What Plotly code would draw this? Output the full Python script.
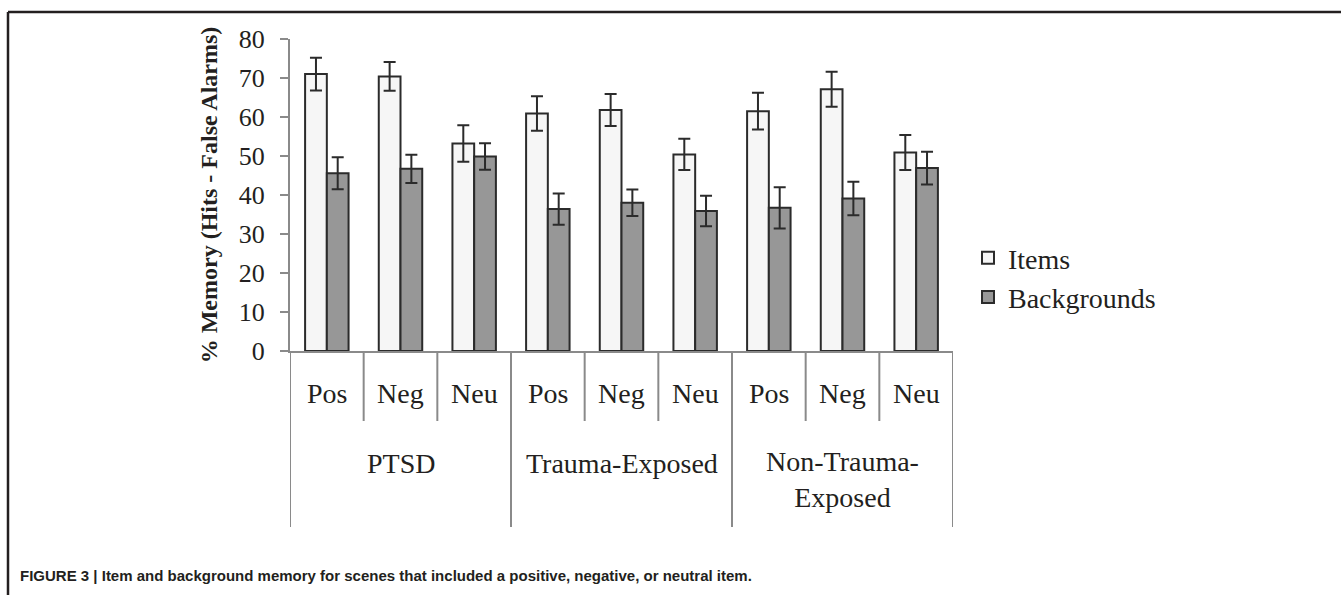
import plotly.graph_objects as go

groups = ["PTSD", "Trauma-Exposed", "Non-Trauma-Exposed"]
group_labels = ["PTSD", "Trauma-Exposed", "Non-Trauma-<br>Exposed"]
conditions = ["Pos", "Neg", "Neu"]

items = [71.0, 70.4, 53.2, 60.9, 61.8, 50.4, 61.5, 67.1, 50.9]
items_err = [4.2, 3.7, 4.7, 4.4, 4.1, 4.0, 4.7, 4.5, 4.5]
backgrounds = [45.6, 46.7, 49.9, 36.4, 38.0, 35.9, 36.7, 39.1, 46.9]
backgrounds_err = [4.1, 3.6, 3.4, 4.0, 3.4, 3.9, 5.3, 4.3, 4.2]

y_title = "% Memory (Hits - False Alarms)"
caption = ("FIGURE 3 | Item and background memory for scenes that included a "
           "positive, negative, or neutral item.")

W, H = 1341, 595
L, R, T, B = 290, 388, 39, 244
PW, PH = W - L - R, H - T - B

def px_x(px):
    return (px - L) / PW

def px_y(py):
    return (H - B - py) / PH

TEXT = "#231f20"
AXIS = "#8a8a8a"
SERIF = "Liberation Serif, Times New Roman, serif"

n = len(groups) * len(conditions)
xs = list(range(n))

fig = go.Figure()
fig.add_trace(go.Bar(
    x=xs, y=items, name="Items",
    marker=dict(color="#f6f6f6", line=dict(color="#2b2b2b", width=2)),
    error_y=dict(type="data", array=items_err, color="#2b2b2b", thickness=2, width=6),
))
fig.add_trace(go.Bar(
    x=xs, y=backgrounds, name="Backgrounds",
    marker=dict(color="#979797", line=dict(color="#2b2b2b", width=2)),
    error_y=dict(type="data", array=backgrounds_err, color="#2b2b2b", thickness=2, width=6),
))

shapes = []
annotations = []
# category tick separators and group dividers
for k in range(n + 1):
    xb = k - 0.5
    if k % len(conditions) == 0:
        y1 = px_y(527)
    else:
        y1 = px_y(421)
    shapes.append(dict(type="line", xref="x", yref="paper", x0=xb, x1=xb,
                       y0=0, y1=y1, line=dict(color=AXIS, width=2)))
# condition labels
for i in xs:
    annotations.append(dict(x=i, xref="x", y=px_y(393), yref="paper",
                            text=conditions[i % len(conditions)], showarrow=False,
                            xanchor="center", yanchor="middle",
                            font=dict(family=SERIF, size=28, color=TEXT)))
# group labels
for gi, lab in enumerate(group_labels):
    xc = gi * len(conditions) + (len(conditions) - 1) / 2
    yc = px_y(480) if "<br>" in lab else px_y(463)
    annotations.append(dict(x=xc, xref="x", y=yc, yref="paper", text=lab,
                            showarrow=False, xanchor="center", yanchor="middle",
                            font=dict(family=SERIF, size=28, color=TEXT)))
# caption
annotations.append(dict(x=px_x(18), xref="paper", y=px_y(575), yref="paper",
                        text="<b>" + caption + "</b>", showarrow=False,
                        xanchor="left", yanchor="middle",
                        font=dict(family="Liberation Sans Narrow, Arial Narrow, Liberation Sans, sans-serif",
                                  size=15, color=TEXT)))
# figure frame (top and left rules)
shapes.append(dict(type="line", xref="paper", yref="paper",
                   x0=px_x(8), x1=px_x(W + 5), y0=px_y(12), y1=px_y(12),
                   line=dict(color=TEXT, width=2.5)))
shapes.append(dict(type="line", xref="paper", yref="paper",
                   x0=px_x(8), x1=px_x(8), y0=px_y(12), y1=px_y(H + 5),
                   line=dict(color=TEXT, width=2.5)))

fig.update_layout(
    width=W, height=H,
    margin=dict(l=L, r=R, t=T, b=B, autoexpand=False),
    paper_bgcolor="white", plot_bgcolor="white",
    barmode="group", bargap=0.41, bargroupgap=0,
    font=dict(family=SERIF, color=TEXT),
    showlegend=True,
    legend=dict(x=px_x(968), y=px_y(233), xanchor="left", yanchor="top",
                font=dict(family=SERIF, size=28, color=TEXT),
                bgcolor="rgba(0,0,0,0)", itemwidth=30, tracegroupgap=0),
    shapes=shapes, annotations=annotations,
)
fig.update_xaxes(range=[-0.5, n - 0.5], showticklabels=False, ticks="",
                 showline=True, linecolor=AXIS, linewidth=2, showgrid=False,
                 zeroline=False, fixedrange=True)
fig.update_yaxes(range=[0, 80], dtick=10, ticks="outside", ticklen=8,
                 tickcolor=AXIS, tickwidth=2, showline=True, linecolor=AXIS,
                 linewidth=2, showgrid=False, zeroline=False,
                 tickfont=dict(family=SERIF, size=26, color=TEXT),
                 ticklabelstandoff=10,
                 title=dict(text="<b>" + y_title + "</b>", standoff=14,
                            font=dict(family=SERIF, size=24, color=TEXT)))

fig.write_html("out.html",
               config={"displayModeBar": False},
               post_script="document.body.style.margin='0';"
                           "document.body.style.overflow='hidden';")
